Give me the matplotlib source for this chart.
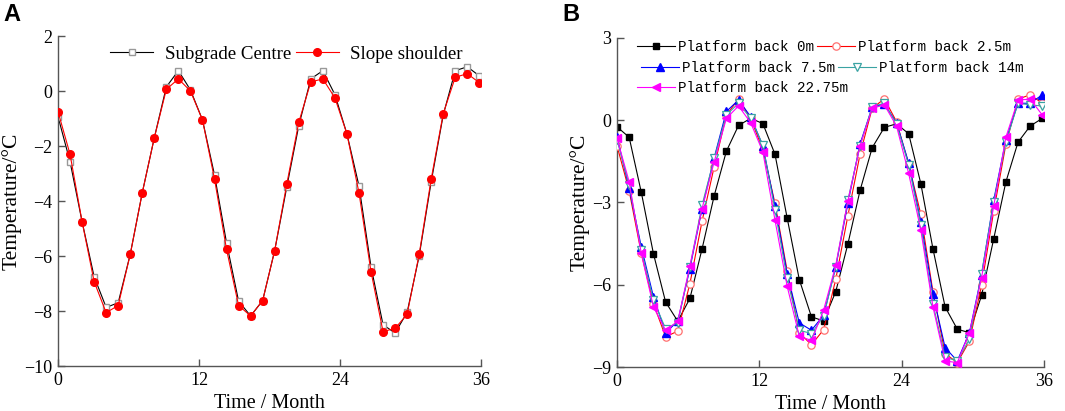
import numpy as np
import matplotlib
matplotlib.use("Agg")
import matplotlib.pyplot as plt

# ---------------- data ----------------
months = np.linspace(0, 35.86, 36)

subgrade_centre = [-0.93, -2.57, -4.75, -6.75, -7.87, -7.70, -5.94, -3.70, -1.70, 0.15,
                   0.74, 0.04, -1.05, -3.05, -5.52, -7.64, -8.18, -7.62, -5.80, -3.50,
                   -1.26, 0.44, 0.74, -0.13, -1.56, -3.45, -6.39, -8.50, -8.80, -8.05,
                   -6.00, -3.30, -0.87, 0.74, 0.88, 0.55]
slope_shoulder = [-0.75, -2.30, -4.75, -6.93, -8.06, -7.80, -5.94, -3.70, -1.70, 0.06,
                  0.44, 0.00, -1.05, -3.20, -5.76, -7.80, -8.18, -7.62, -5.80, -3.39,
                  -1.14, 0.33, 0.44, -0.25, -1.56, -3.70, -6.57, -8.75, -8.63, -8.12,
                  -5.94, -3.20, -0.82, 0.50, 0.63, 0.30]

back_0 = [-0.24, -0.62, -2.63, -4.87, -6.63, -7.33, -6.50, -4.69, -2.75, -1.13,
          -0.19, 0.07, -0.12, -1.24, -3.56, -5.81, -7.17, -7.32, -6.25, -4.51,
          -2.56, -1.00, -0.26, -0.13, -0.49, -2.31, -4.69, -6.81, -7.62, -7.75,
          -6.39, -4.32, -2.25, -0.80, -0.21, 0.07]
back_2_5 = [-0.93, -2.57, -4.86, -6.69, -7.90, -7.69, -5.96, -3.68, -1.69, 0.19,
            0.77, 0.07, -1.08, -3.03, -5.49, -7.75, -8.19, -7.64, -5.80, -3.48,
            -1.24, 0.44, 0.78, -0.05, -1.60, -3.43, -6.26, -8.51, -8.84, -8.06,
            -6.02, -3.31, -0.88, 0.77, 0.93, 0.62]
back_7_5 = [-0.60, -2.48, -4.62, -6.44, -7.75, -7.33, -5.41, -3.22, -1.36, 0.32,
            0.74, 0.13, -0.93, -3.13, -5.59, -7.39, -7.66, -7.11, -5.35, -3.03,
            -0.86, 0.47, 0.60, -0.09, -1.55, -3.70, -6.35, -8.29, -8.78, -7.75,
            -5.63, -2.91, -0.72, 0.62, 0.62, 0.93]
back_14 = [-0.72, -2.36, -4.74, -6.57, -7.60, -7.39, -5.35, -3.09, -1.39, 0.19,
           0.62, 0.07, -0.90, -3.28, -5.77, -7.66, -7.78, -7.15, -5.35, -2.91,
           -0.93, 0.50, 0.62, -0.13, -1.63, -3.82, -6.69, -8.64, -8.78, -7.99,
           -5.59, -2.97, -0.80, 0.62, 0.56, 0.52]
back_22_75 = [-0.66, -2.24, -4.86, -6.81, -7.66, -7.33, -5.31, -3.22, -1.51, 0.07,
              0.52, -0.09, -1.15, -3.64, -6.05, -7.88, -8.03, -6.93, -5.29, -2.94,
              -0.93, 0.44, 0.56, -0.21, -1.94, -4.01, -6.81, -8.78, -8.84, -7.75,
              -5.74, -3.13, -0.62, 0.74, 0.77, 0.19]

x_ticks = [0, 12, 24, 36]
a_yticks = [2, 0, -2, -4, -6, -8, -10]
b_yticks = [3, 0, -3, -6, -9]

# ---------------- style ----------------
serif = ["Liberation Serif", "DejaVu Serif"]
mono = ["Liberation Mono", "DejaVu Sans Mono"]
plt.rcParams["font.family"] = serif
plt.rcParams["axes.unicode_minus"] = True

W, H = 1065, 411
fig = plt.figure(figsize=(W / 100, H / 100), dpi=100)
axA = fig.add_axes([58 / W, 1 - 366 / H, (481 - 58) / W, (366 - 36) / H])
axB = fig.add_axes([617 / W, 1 - 367 / H, (1044 - 617) / W, (367 - 38) / H])

spine_col = "#555555"
for ax in (axA, axB):
    for s in ("top", "right"):
        ax.spines[s].set_visible(False)
    for s in ("left", "bottom"):
        ax.spines[s].set_color(spine_col)
        ax.spines[s].set_linewidth(1.0)
    ax.tick_params(direction="in", length=5, width=1, color=spine_col,
                   labelsize=13, pad=4)
    ax.set_xlim(0, 36)
    ax.set_xticks(x_ticks)
    ax.set_xlabel("Time / Month", fontsize=14.5, labelpad=4)
    ax.set_ylabel("Temperature/°C", fontsize=15.5, labelpad=2)

# ---- Panel A ----
axA.plot(months, subgrade_centre, color="black", lw=0.8, marker="s", ms=4.3,
         mfc="white", mec="#999999", mew=1.0, label="Subgrade Centre", zorder=2)
axA.plot(months, slope_shoulder, color="red", lw=0.8, marker="o", ms=5.5,
         mfc="red", mec="red", label="Slope shoulder", zorder=3)
axA.set_ylim(-10, 2)
axA.set_yticks(a_yticks)
axA.legend(loc="center right", ncol=2, frameon=False, fontsize=13.6,
           bbox_to_anchor=(463 / W, 1 - 54 / H), bbox_transform=fig.transFigure,
           handlelength=2.3, columnspacing=0.25, handletextpad=0.6,
           borderpad=0.0, borderaxespad=0.0)

# ---- Panel B ----
lw = 0.8
lB = {}
lB["0"], = axB.plot(months, back_0, color="black", lw=lw, marker="s", ms=4.5,
                    mfc="black", mec="black", label="Platform back 0m", zorder=2)
lB["2.5"], = axB.plot(months, back_2_5, color="red", lw=lw, marker="o", ms=5.3,
                      mfc="white", mec="#ff7070", mew=0.9, label="Platform back 2.5m", zorder=3)
lB["7.5"], = axB.plot(months, back_7_5, color="blue", lw=lw, marker="^", ms=5.3,
                      mfc="blue", mec="blue", label="Platform back 7.5m", zorder=4)
lB["14"], = axB.plot(months, back_14, color="#3aa3a3", lw=lw, marker="v", ms=5.3,
                     mfc="white", mec="#3aa3a3", mew=0.9, label="Platform back 14m", zorder=5)
lB["22.75"], = axB.plot(months, back_22_75, color="magenta", lw=lw, marker="<", ms=5.8,
                        mfc="magenta", mec="magenta", label="Platform back 22.75m", zorder=6)
axB.set_ylim(-9, 3)
axB.set_yticks(b_yticks)

rows = [(["0", "2.5"], 637, 47), (["7.5", "14"], 641, 68), (["22.75"], 637, 88)]
legs = []
for keys, xl, yc in rows:
    hs = [lB[k] for k in keys]
    lg = axB.legend(hs, [h.get_label() for h in hs], loc="center left",
                    ncol=len(hs), frameon=False, prop={"family": mono, "size": 10.2},
                    bbox_to_anchor=(xl / W, 1 - yc / H), bbox_transform=fig.transFigure,
                    handlelength=2.7, handletextpad=0.2, columnspacing=0.2,
                    borderpad=0.0, borderaxespad=0.0)
    legs.append(lg)
for lg in legs[:-1]:
    axB.add_artist(lg)

# panel letters
fig.text(3 / W, 1 - 21 / H, "A", fontsize=17, fontweight="bold",
         family=["Liberation Sans", "DejaVu Sans"])
fig.text(562 / W, 1 - 21 / H, "B", fontsize=17, fontweight="bold",
         family=["Liberation Sans", "DejaVu Sans"])

fig.savefig("out.png", dpi=100)
